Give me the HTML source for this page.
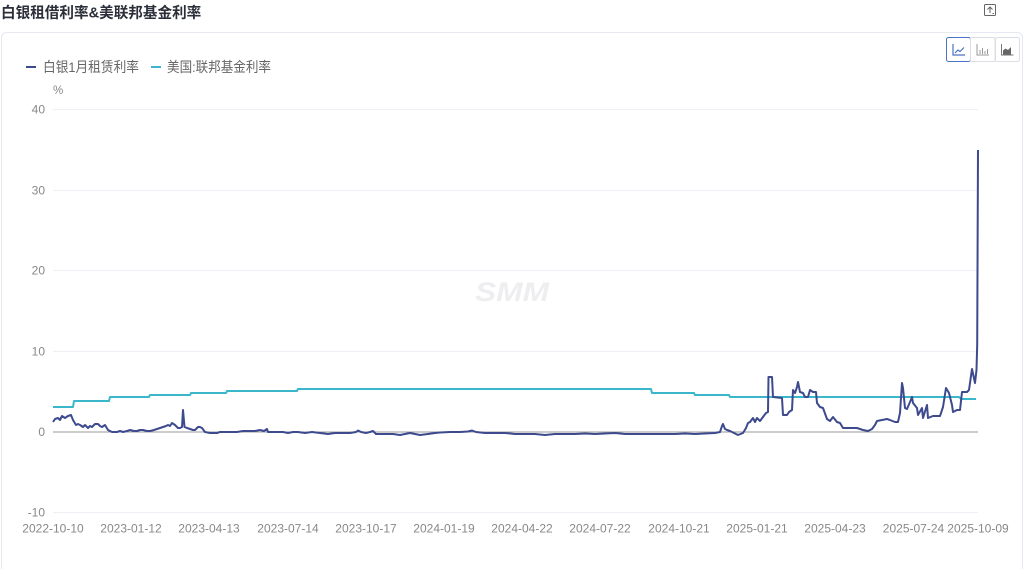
<!DOCTYPE html>
<html><head><meta charset="utf-8"><style>
html,body{margin:0;padding:0;background:#fff;width:1024px;height:569px;overflow:hidden}
svg{display:block}
text{font-family:"Liberation Sans","Noto Sans CJK SC",sans-serif}
</style></head><body>
<svg width="1024" height="569" viewBox="0 0 1024 569" xmlns="http://www.w3.org/2000/svg">
<text x="1" y="17.5" font-size="14.6" font-weight="bold" fill="#2b2f3a">白银租借利率&amp;美联邦基金利率</text>
<g fill="none" stroke="#666" stroke-width="1">
<rect x="984.5" y="4.5" width="11" height="11" rx="1"/>
<path d="M990 13V7M987.5 9.5L990 7L992.5 9.5" />
<path d="M992.5 13.5h1.5" />
</g>
<rect x="1.5" y="32.5" width="1021" height="560" rx="5" fill="#fff" stroke="#e6e8f2"/>
<rect x="946.5" y="37.5" width="24" height="24" rx="2" fill="#fff" stroke="#4a72c8"/>
<rect x="970.5" y="37.5" width="24.5" height="24" rx="1" fill="#fff" stroke="#dcdde3"/>
<rect x="995.5" y="37.5" width="24" height="24" rx="2" fill="#fff" stroke="#dcdde3"/>
<g fill="none" stroke="#4a72c8" stroke-width="1.2">
<path d="M953 44v11h12"/><path d="M955 53l3-3 2 1.5 4-4"/>
</g>
<g fill="none" stroke="#999" stroke-width="1">
<path d="M977 44v11h12"/><path d="M980 54v-4M982.5 54v-6M985 54v-3M987.5 54v-5"/>
</g>
<g>
<path d="M1001.5 44v11h12" fill="none" stroke="#777" stroke-width="1"/>
<path d="M1003 54.5v-4l2.5-2 2.5 1.5 3-3v7.5z" fill="#666"/>
</g>
<line x1="26" y1="67" x2="36" y2="67" stroke="#3d4a8e" stroke-width="2"/>
<text x="43" y="72" font-size="14" fill="#666" textLength="96" lengthAdjust="spacingAndGlyphs">白银1月租赁利率</text>
<line x1="151" y1="67" x2="161" y2="67" stroke="#3bb7cc" stroke-width="2"/>
<text x="167" y="72" font-size="14" fill="#666" textLength="104" lengthAdjust="spacingAndGlyphs">美国:联邦基金利率</text>
<text x="53" y="94" font-size="11.5" fill="#888">%</text>
<g stroke="#eef0f6" stroke-width="1">
<line x1="53" y1="109.5" x2="978" y2="109.5"/>
<line x1="53" y1="190.5" x2="978" y2="190.5"/>
<line x1="53" y1="270.5" x2="978" y2="270.5"/>
<line x1="53" y1="351.5" x2="978" y2="351.5"/>
<line x1="53" y1="512.5" x2="978" y2="512.5"/>
</g>
<g font-size="12" fill="#888" text-anchor="end">
<text x="45" y="113.5">40</text>
<text x="45" y="194.5">30</text>
<text x="45" y="274.5">20</text>
<text x="45" y="355.5">10</text>
<text x="45" y="436">0</text>
<text x="45" y="516.5">-10</text>
</g>
<text x="512" y="301" font-size="27" font-weight="bold" font-style="italic" fill="#eeeef0" text-anchor="middle" textLength="74" lengthAdjust="spacingAndGlyphs">SMM</text>
<g font-size="12" fill="#888" text-anchor="middle">
<text x="53" y="532.5">2022-10-10</text>
<text x="131" y="532.5">2023-01-12</text>
<text x="209" y="532.5">2023-04-13</text>
<text x="288" y="532.5">2023-07-14</text>
<text x="366" y="532.5">2023-10-17</text>
<text x="444" y="532.5">2024-01-19</text>
<text x="522" y="532.5">2024-04-22</text>
<text x="600" y="532.5">2024-07-22</text>
<text x="679" y="532.5">2024-10-21</text>
<text x="757" y="532.5">2025-01-21</text>
<text x="835" y="532.5">2025-04-23</text>
<text x="913.5" y="532.5">2025-07-24</text>
<text x="978" y="532.5">2025-10-09</text>
</g>
<line x1="53" y1="432" x2="978" y2="432" stroke="#9a9a9a" stroke-width="1"/>
<polyline fill="none" stroke="#3bb7cc" stroke-width="2" stroke-linejoin="round" points="53,407 73,407 74,401 109,401 110,397 149,397 150,395 190,395 191,393 226,393 227,391 297,391 298,389 651,389 652,393 694,393 695,395 729,395 730,397 959,397 961,399 976,399"/>
<polyline fill="none" stroke="#3d4a8e" stroke-width="2" stroke-linejoin="round" points="53,422 55,419 58,418 60,420 62,416 65,418 68,416 71,415 73,420 76,425 78,424 80,425 83,427 85,425 88,428 90,426 92,427 95,424 98,424 100,426 102,427 105,425 108,430 112,432 117,432 120,431 123,432 127,431 130,430 134,431 137,431 140,430 143,430 147,431 150,431 154,430 157,429 160,428 163,427 166,426 168,425 170,426 172,423 175,425 178,428 180,428 182,427 183,410 184.5,427 187,428 190,429 193,430 195,430 198,427 200,427 202,428 205,432 210,433 214,433 217,433 220,432 223,432 227,432 232,432 237,432 243,431 250,431 255,431 260,430 264,431 267,429 268,432 272,432 276,432 280,432 283,432 288,433 293,432 298,432 305,433 312,432 320,433 328,434 335,433 342,433 350,433 356,432 358,430.5 361,432 366,433 370,432 373,431 376,434 385,434 393,434 400,435 405,434 410,433 415,434 420,435 428,434 435,433 440,432.5 450,432 460,432 468,431.5 472,430.5 476,432 485,433 495,433 505,433 515,434 525,434 535,434 545,435 555,434 565,434 575,434 585,433.5 595,434 605,433.5 615,433 625,434 635,434 645,434 655,434 665,434 675,434 685,433.5 695,434 705,433.5 715,433 720,432 722,426 723,424 725,429 727,430 730,431 734,433 738,435 743,433 746,428 748,423 750,422 753,418 755,422 757,418 760,421 763,417 766,413 768,412 768.5,377 772,377 773,397 782,398 783,415 787,415 789,412 792,410 793,390 795,393 797,387 798,382 800,392 803,393 805,397 808,397 810,390 813,392 816,392 817,403 820,407 823,408 827,419 830,421 833,417 837,422 840,423 843,428 847,428 852,428 857,428 860,429 863,430 868,431 872,429 875,425 877,421 882,420 887,419 890,420 895,422 898,422 900,413 902,383 903,388 905,408 907,409 910,402 912,397 913,403 917,408 918,415 922,408 923,418 927,405 928,418 933,416 940,416 943,407 946,388 949,393 952,405 953,412 957,410 960,410 962,392 967,392 969,390 972,369 975,383 976.5,370 977.2,345 978,150"/>
</svg>
</body></html>
